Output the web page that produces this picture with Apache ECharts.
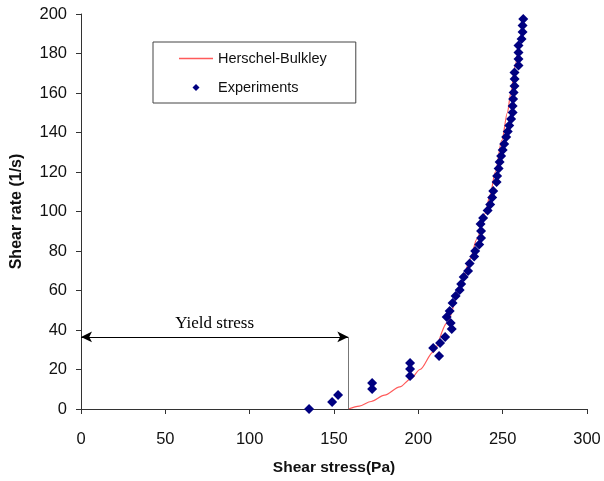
<!DOCTYPE html>
<html>
<head>
<meta charset="utf-8">
<script src="https://cdn.jsdelivr.net/npm/echarts@6/dist/echarts.min.js"></script>
<style>html,body{margin:0;padding:0;background:#fff;}#c{width:604px;height:481px;}</style>
</head>
<body>
<div id="c"></div>
<script>
// Experimental data: shear stress (Pa), shear rate (1/s)
const expStress = [135.2,148.9,152.4,172.6,172.6,195.1,195.1,195.1,208.8,212.3,212.9,215.9,219.8,219.2,216.8,218.6,220.3,222.1,224.5,225.4,226.9,229.5,230.4,233.1,233.7,236.1,237.2,237.2,236.9,238.4,241.1,242.6,243.8,244.4,246.4,246.7,247.6,248.2,249.1,250.0,250.9,252.1,253.0,253.9,255.0,255.9,255.9,256.2,256.5,257.0,257.1,257.0,259.4,259.4,259.4,259.4,261.2,261.8,261.8,262.2];
const expRate = [0,3.5,7.1,10.1,13.2,16.7,20.3,23.3,30.9,26.8,33.4,36.5,40.5,43.5,46.6,49.6,53.7,57.2,60.3,63.3,66.8,69.9,73.7,77.2,80.0,83.3,86.6,90.1,93.7,96.7,100.5,103.5,107.1,110.4,114.9,118.0,121.8,125.1,128.1,131.1,134.2,137.7,140.5,143.5,146.8,150.1,153.4,157.0,160.3,163.5,167.1,170.4,173.9,177.2,180.5,184.1,187.4,190.9,194.2,197.5];
// Herschel-Bulkley fitted curve
const hbStress = [158.5,165,172,180,189,195.5,201,208.8,216.9,225.8,230.7,234.7,239.6,242.6,245.6,249.5,252.8,254.8,257.4,258.5];
const hbRate = [0,1.5,3.8,7.0,11.2,15.3,20.0,28.8,43.5,64.0,76.0,86.0,99.0,108.5,120.0,136.0,150.0,160.0,174.0,179.0];
// Yield stress annotation
const yieldStress = 158.5;
const yieldArrowRate = 36.5;
const xTicks = {min:0, max:300, interval:50};
const yTicks = {min:0, max:200, interval:20};

const chart = echarts.init(document.getElementById('c'), null, {renderer:'canvas'});
const font = 'Liberation Sans, Arial, sans-serif';
const red = '#ff5a5a';
const navy = '#000080';
chart.setOption({
  animation: false,
  backgroundColor: '#fff',
  grid: {left: 81, right: 17, top: 14, bottom: 72, containLabel: false},
  legend: {
    orient: 'vertical',
    left: 153, top: 42,
    padding: [9, 29, 8, 26],
    itemWidth: 34, itemHeight: 10, itemGap: 14,
    borderColor: '#444', borderWidth: 1,
    textStyle: {fontFamily: font, fontSize: 14.5, color: '#111'},
    data: [
      {name: 'Herschel-Bulkley', icon: 'path://M0,0L0,0M34,10L34,10M0,4.3L34,4.3L34,5.7L0,5.7Z', itemStyle: {color: red, opacity: 1}},
      {name: 'Experiments', icon: 'path://M0,0L0,0M34,10L34,10M17,1.5L20.5,5L17,8.5L13.5,5Z', itemStyle: {color: navy, opacity: 1}}
    ]
  },
  xAxis: {
    type: 'value', min: xTicks.min, max: xTicks.max, interval: xTicks.interval,
    name: 'Shear stress(Pa)', nameLocation: 'middle', nameGap: 51,
    nameTextStyle: {fontFamily: font, fontSize: 15.5, fontWeight: 'bold', color: '#111'},
    axisLine: {lineStyle: {color: '#333', width: 1}},
    axisTick: {show: true, inside: false, length: 5, lineStyle: {color: '#333'}},
    axisLabel: {fontFamily: font, fontSize: 16.5, color: '#111', margin: 22},
    splitLine: {show: false}
  },
  yAxis: {
    type: 'value', min: yTicks.min, max: yTicks.max, interval: yTicks.interval,
    name: 'Shear rate (1/s)', nameLocation: 'middle', nameGap: 56,
    nameTextStyle: {fontFamily: font, fontSize: 16, fontWeight: 'bold', color: '#111'},
    axisLine: {show: true, lineStyle: {color: '#333', width: 1}},
    axisTick: {show: true, inside: false, length: 5, lineStyle: {color: '#333'}},
    axisLabel: {fontFamily: font, fontSize: 16.5, color: '#111', margin: 14},
    splitLine: {show: false}
  },
  series: [
    {
      name: 'Herschel-Bulkley', type: 'line',
      data: hbStress.map((x, i) => [x, hbRate[i]]),
      showSymbol: false, symbol: 'none', smooth: 0.3, smoothMonotone: 'x',
      lineStyle: {color: red, width: 1.2},
      itemStyle: {color: red},
      z: 2,
      markLine: {
        silent: true, animation: false,
        data: [
          [
            {coord: [xTicks.min, yieldArrowRate], symbol: 'arrow', symbolSize: [8, 11],
             lineStyle: {color: '#000', width: 1, type: 'solid'},
             label: {show: true, position: 'middle', formatter: 'Yield stress', distance: 5,
                     fontFamily: 'Liberation Serif, Times New Roman, serif', fontSize: 17, color: '#000'}},
            {coord: [yieldStress, yieldArrowRate], symbol: 'arrow', symbolSize: [8, 11]}
          ],
          [
            {coord: [yieldStress, yieldArrowRate], symbol: 'none',
             lineStyle: {color: '#777', width: 1, type: 'solid'}, label: {show: false}},
            {coord: [yieldStress, 0], symbol: 'none'}
          ]
        ]
      }
    },
    {
      name: 'Experiments', type: 'scatter',
      data: expStress.map((x, i) => [x, expRate[i]]),
      symbol: 'diamond', symbolSize: 10,
      itemStyle: {color: navy, opacity: 1},
      z: 3
    }
  ]
});
</script>
</body>
</html>
